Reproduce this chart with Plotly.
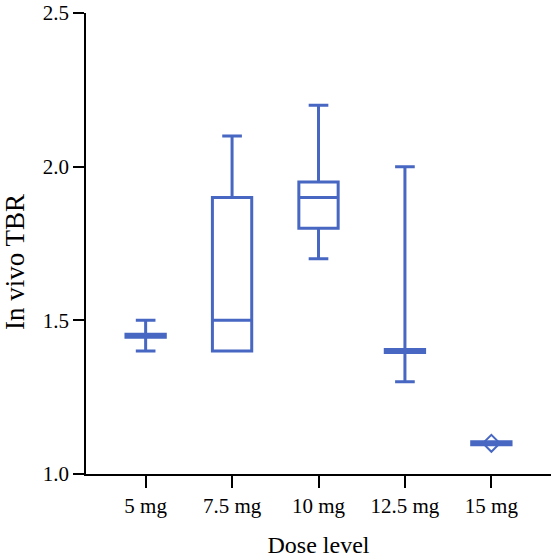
import plotly.graph_objects as go

categories = ["5 mg", "7.5 mg", "10 mg", "12.5 mg", "15 mg"]
q1_vals = [1.445, 1.40, 1.80, 1.395, 1.095]
median_vals = [1.45, 1.50, 1.90, 1.40, 1.10]
q3_vals = [1.455, 1.90, 1.95, 1.405, 1.105]
lower_vals = [1.40, 1.40, 1.70, 1.30, 1.095]
upper_vals = [1.50, 2.10, 2.20, 2.00, 1.105]
marker_cat = ["15 mg"]
marker_vals = [1.10]

y_ticks = [1.0, 1.5, 2.0, 2.5]
y_tick_labels = ["1.0", "1.5", "2.0", "2.5"]

BLUE = "#4767C2"
FONT = "Liberation Serif"

fig = go.Figure()
fig.add_trace(go.Box(
    x=categories, q1=q1_vals, median=median_vals, q3=q3_vals,
    lowerfence=lower_vals, upperfence=upper_vals,
    line=dict(color=BLUE, width=3), fillcolor="rgba(0,0,0,0)",
    whiskerwidth=0.5, boxpoints=False, showlegend=False,
))
fig.add_trace(go.Scatter(
    x=marker_cat, y=marker_vals, mode="markers",
    marker=dict(symbol="diamond-open", size=13, color=BLUE, line=dict(color=BLUE, width=2)),
    showlegend=False,
))

fig.update_layout(
    width=551, height=560,
    margin=dict(l=86, r=0, t=13, b=86),
    paper_bgcolor="white", plot_bgcolor="white",
    font=dict(family=FONT, size=21, color="black"),
    boxgap=0.35,
    xaxis=dict(
        type="category", categoryarray=categories, range=[-0.69, 4.69],
        showline=True, linecolor="black", linewidth=1.5,
        ticks="outside", ticklen=12, tickwidth=1.5, tickcolor="black",
        showgrid=False, zeroline=False,
        title=dict(text="Dose level", font=dict(size=24), standoff=19),
    ),
    yaxis=dict(
        range=[1.0, 2.5], tickvals=y_ticks, ticktext=y_tick_labels,
        showline=True, linecolor="black", linewidth=1.5,
        ticks="outside", ticklen=11, tickwidth=1.5, tickcolor="black",
        showgrid=False, zeroline=False,
    ),
    annotations=[dict(
        text="In vivo TBR", textangle=-90, showarrow=False,
        xref="paper", yref="paper", x=-0.1527, y=0.46,
        xanchor="center", yanchor="middle",
        font=dict(family=FONT, size=27, color="black"),
    )],
)

fig.write_html("out.html", config={"displayModeBar": False},
               post_script="document.body.style.margin='0';")
